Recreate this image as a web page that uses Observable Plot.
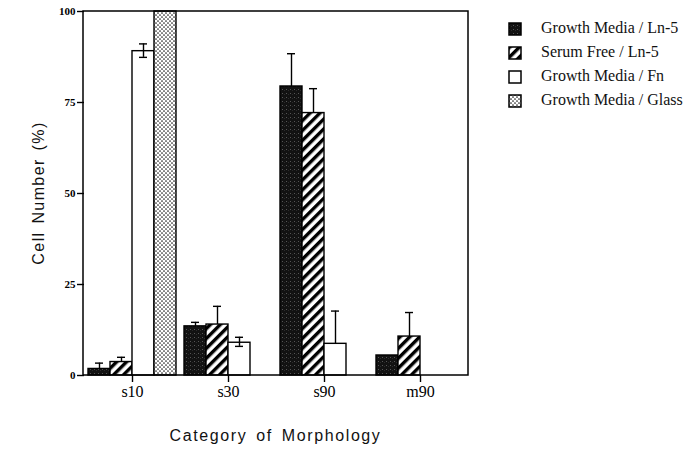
<!DOCTYPE html>
<html>
<head>
<meta charset="utf-8">
<script src="https://cdn.jsdelivr.net/npm/d3@7"></script>
<script src="https://cdn.jsdelivr.net/npm/@observablehq/plot@0.6"></script>
<style>
  html, body { margin: 0; padding: 0; background: #fff; }
  #chart { position: relative; width: 683px; height: 453px; overflow: hidden; }
</style>
</head>
<body>
<div id="chart"></div>
<script>
// ---- data ----
const categories = ["s10", "s30", "s90", "m90"];
const series = ["Growth Media / Ln-5", "Serum Free / Ln-5", "Growth Media / Fn", "Growth Media / Glass"];
const growthLn5   = [1.8, 13.5, 79.4, 5.5];
const serumLn5    = [3.7, 14.0, 72.1, 10.7];
const growthFn    = [89.1, 9.0, 8.7, 0];
const growthGlass = [100, 0, 0, 0];
const growthLn5Err   = [1.6, 1.1, 9.0, 0];
const serumLn5Err    = [1.3, 5.0, 6.7, 6.6];
const growthFnErr    = [2.0, 1.5, 9.0, 0];
const growthGlassErr = [0, 0, 0, 0];
const growthFnErrLow = [1.7, 1.0, 0, 0];
const yTicks = [0, 25, 50, 75, 100];
const yTitle = "Cell Number (%)";
const xTitle = "Category of Morphology";

const values = [growthLn5, serumLn5, growthFn, growthGlass];
const errHi = [growthLn5Err, serumLn5Err, growthFnErr, growthGlassErr];
const errLo = [[0,0,0,0], [0,0,0,0], growthFnErrLow, [0,0,0,0]];

const rows = categories.flatMap((c, i) => series.map((s, j) => ({
  cat: c, series: s, value: values[j][i], hi: errHi[j][i], lo: errLo[j][i]
})));
const bars = rows.filter(d => d.value > 0);
const errs = rows.filter(d => d.value > 0 && (d.hi > 0 || d.lo > 0))
  .map(d => ({...d, y1: d.value - d.lo, y2: d.value + d.hi}));
const caps = [
  ...errs.filter(d => d.hi > 0).map(d => ({...d, y: d.y2})),
  ...errs.filter(d => d.lo > 0).map(d => ({...d, y: d.y1}))
];

const W = 683, H = 453;
const mL = 83, mR = 215, mT = 11, mB = 78;
const fills = ["url(#p-ln5)", "url(#p-serum)", "#ffffff", "url(#p-glass)"];
const serif = "'Liberation Serif', 'Times New Roman', serif";
const sans = "'Liberation Sans', Arial, sans-serif";

const chart = Plot.plot({
  width: W, height: H,
  marginLeft: mL, marginRight: mR, marginTop: mT, marginBottom: mB,
  fx: {domain: categories, padding: 0},
  x: {domain: series, paddingInner: 0, paddingOuter: 0.18, axis: null},
  y: {domain: [0, 100]},
  color: {domain: series, range: fills},
  marks: [
    Plot.barY(bars, {fx: "cat", x: "series", y: "value", fill: "series", stroke: "#000", strokeWidth: 1.4}),
    Plot.ruleX(errs, {fx: "cat", x: "series", y1: "y1", y2: "y2", stroke: "#000", strokeWidth: 1.4}),
    Plot.tickY(caps, {fx: "cat", x: "series", y: "y", stroke: "#000", strokeWidth: 1.4, insetLeft: 7, insetRight: 7}),
    Plot.axisFx({anchor: "bottom", tickSize: 7, tickPadding: 3, fontSize: 16, fontFamily: serif, label: null, stroke: "#000", strokeWidth: 1.4}),
    Plot.axisY({ticks: yTicks, tickSize: 7, tickPadding: 2, fontSize: 11, fontWeight: "bold", fontFamily: serif, label: null, strokeWidth: 1.4})
  ]
});
document.getElementById("chart").appendChild(chart);

const svg = d3.select(chart);
svg.style("background", "#fff").style("overflow", "hidden");
const defs = svg.insert("defs", ":first-child");
// stippled dark
const p1 = defs.append("pattern").attr("id", "p-ln5").attr("patternUnits", "userSpaceOnUse").attr("width", 4).attr("height", 4);
p1.append("rect").attr("width", 4).attr("height", 4).attr("fill", "#121212");
p1.append("rect").attr("x", 1).attr("y", 1).attr("width", 0.9).attr("height", 0.9).attr("fill", "#666");
p1.append("rect").attr("x", 3).attr("y", 2).attr("width", 0.7).attr("height", 0.7).attr("fill", "#444");
// diagonal hatch
const p2 = defs.append("pattern").attr("id", "p-serum").attr("patternUnits", "userSpaceOnUse")
  .attr("width", 7).attr("height", 7).attr("patternTransform", "rotate(45)");
p2.append("rect").attr("width", 7).attr("height", 7).attr("fill", "#fff");
p2.append("rect").attr("width", 3.4).attr("height", 7).attr("fill", "#000");
// fine dots
const p3 = defs.append("pattern").attr("id", "p-glass").attr("patternUnits", "userSpaceOnUse").attr("width", 4).attr("height", 4);
p3.append("rect").attr("width", 4).attr("height", 4).attr("fill", "#fff");
p3.append("circle").attr("cx", 1).attr("cy", 1).attr("r", 0.85).attr("fill", "#222");
p3.append("circle").attr("cx", 3).attr("cy", 3).attr("r", 0.85).attr("fill", "#222");

// plot frame
svg.append("rect").attr("x", mL).attr("y", mT).attr("width", W - mL - mR).attr("height", H - mT - mB)
  .attr("fill", "none").attr("stroke", "#000").attr("stroke-width", 1.5);

// axis titles
svg.append("text").attr("transform", `translate(40,${mT + (H - mT - mB) / 2}) rotate(-90)`)
  .attr("text-anchor", "middle").attr("dominant-baseline", "middle")
  .style("font-family", sans).style("font-size", "16px").style("letter-spacing", "1.4px").style("word-spacing", "2px")
  .attr("fill", "#111").text(yTitle);
svg.append("text").attr("x", mL + (W - mL - mR) / 2).attr("y", 437)
  .attr("text-anchor", "middle").attr("dominant-baseline", "middle")
  .style("font-family", sans).style("font-size", "16px").style("letter-spacing", "1.6px").style("word-spacing", "3px")
  .attr("fill", "#111").text(xTitle);

// legend
const lg = svg.append("g").attr("text-anchor", "start");
series.forEach((s, i) => {
  const cy = 29 + i * 24;
  lg.append("rect").attr("x", 509).attr("y", cy - 6).attr("width", 12).attr("height", 12)
    .attr("fill", fills[i]).attr("stroke", "#000").attr("stroke-width", 1.5);
  lg.append("text").attr("x", 541).attr("y", cy).attr("dominant-baseline", "middle")
    .attr("text-anchor", "start").style("text-anchor", "start")
    .style("font-family", serif).style("font-size", "16px").attr("fill", "#111").text(s);
});
</script>
</body>
</html>
